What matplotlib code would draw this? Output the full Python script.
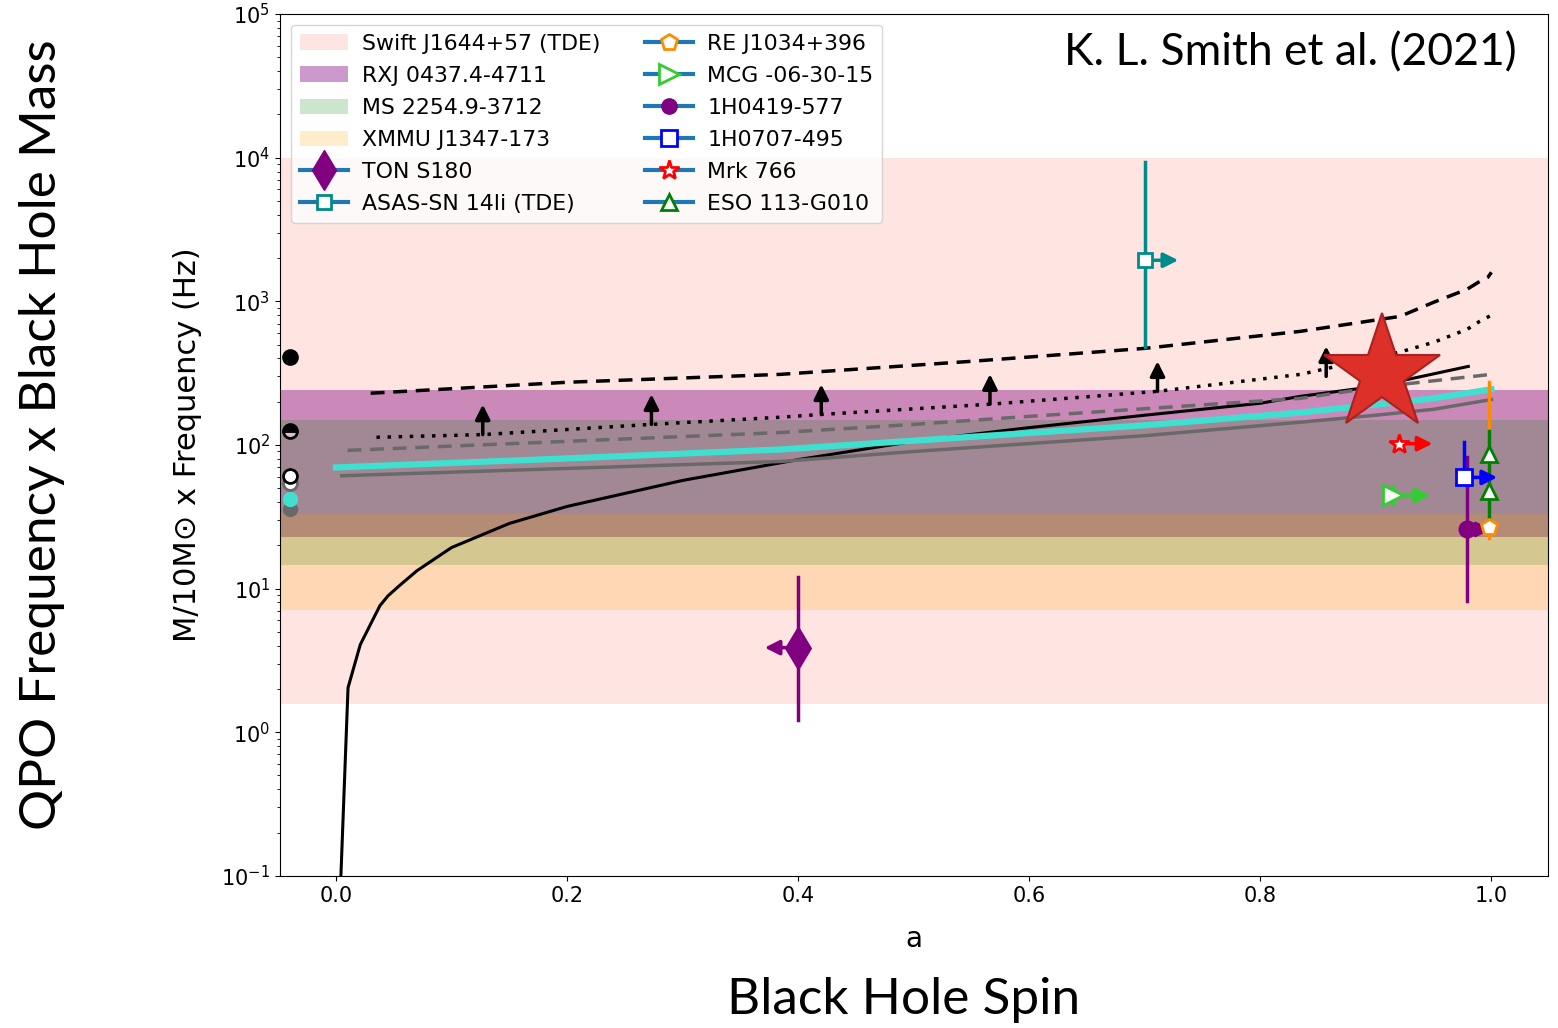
import matplotlib
matplotlib.use("Agg")
import matplotlib.pyplot as plt
from matplotlib.lines import Line2D
from matplotlib.patches import Patch

# --- model curves (a, M/10Msun x freq) ---
solid_a = [0.0035, 0.0104, 0.021, 0.032, 0.038, 0.045, 0.055, 0.07, 0.1, 0.15, 0.2, 0.3, 0.4, 0.5, 0.6, 0.7, 0.8, 0.835, 0.9, 0.98]
solid_f = [0.07, 2.04, 4.07, 6.1, 7.6, 8.9, 10.5, 13.3, 19.3, 28.4, 37.3, 56.6, 79, 106, 132, 161, 195, 218, 256, 352]

dashed_a = [0.03, 0.2, 0.385, 0.55, 0.7, 0.835, 0.921, 0.95, 0.979, 0.99, 0.997, 1.0]
dashed_f = [229, 273, 310, 382, 470, 618, 785, 984, 1213, 1377, 1470, 1592]

dotted_a = [0.035, 0.127, 0.273, 0.385, 0.42, 0.566, 0.711, 0.835, 0.92, 0.95, 0.979, 0.99, 1.0]
dotted_f = [113, 118, 139, 156, 163, 192, 236, 310, 441, 518, 638, 726, 800]

gdash_a = [0.01, 0.385, 0.5, 0.6, 0.835, 0.9, 1.0]
gdash_f = [91.6, 122, 139, 158, 211, 252, 310]

cyan_a = [0.0, 0.2, 0.385, 0.5, 0.7, 0.835, 0.9, 0.95, 1.0]
cyan_f = [69.7, 80.5, 93, 107, 137, 168, 191, 211, 244]

gray_a = [0.005, 0.385, 0.5, 0.7, 0.835, 0.9, 0.95, 1.0]
gray_f = [61, 76.7, 90, 116, 144, 161, 177, 207]

# lower-limit arrows sitting on the dotted curve
arrow_a = [0.127, 0.273, 0.42, 0.566, 0.711, 0.857]
arrow_f = [118, 139, 163, 192, 236, 300]

# circles at a < 0
left_f = [407, 124, 61.2, 54, 41.7, 36]

# QPO source bands (low, high)
band_names = ["Swift J1644+57 (TDE)", "RXJ 0437.4-4711", "MS 2254.9-3712", "XMMU J1347-173"]
band_lo = [1.56, 23, 14.7, 7.1]
band_hi = [10000, 240, 148, 33.3]

# sources: a, f, f_err_low, f_err_high, arrow end in a
ton_a, ton_f, ton_lo, ton_hi, ton_to = 0.4, 3.88, 1.22, 12.1, 0.371
asas_a, asas_f, asas_lo, asas_hi, asas_to = 0.7, 1930, 477, 9310, 0.729
mrk_a, mrk_f, mrk_to = 0.92, 102, 0.949
mcg_a, mcg_f, mcg_lo, mcg_hi, mcg_to = 0.915, 44.5, 39, 51, 0.947
h0707_a, h0707_f, h0707_lo, h0707_hi, h0707_to = 0.976, 59.4, 59.4, 104, 1.005
h0419_a, h0419_f, h0419_lo, h0419_hi, h0419_to = 0.979, 25.8, 8.2, 83, 1.0
re_a, re_f, re_lo, re_hi = 0.998, 27, 22.6, 273
eso_a, eso_f, eso_lo, eso_hi = 0.998, [86, 47.4], 27, 124
smith_a, smith_f = 0.905, 312

fig = plt.figure(figsize=(15.58, 10.28), dpi=100)
ax = fig.add_axes([0.1797, 0.148, 0.8139, 0.8384])

band_cols = ["salmon", "purple", "green", "orange"]
band_alpha = [0.2, 0.4, 0.2, 0.2]
for lo, hi, c, al in zip(band_lo, band_hi, band_cols, band_alpha):
    ax.axhspan(lo, hi, color=c, alpha=al, lw=0, zorder=0)

ax.plot(solid_a, solid_f, color="black", lw=2.2, zorder=3)
ax.plot(dashed_a, dashed_f, color="black", lw=2.5, ls=(0, (4, 2.5)), zorder=3)
ax.plot(dotted_a, dotted_f, color="black", lw=2.5, ls=(0, (1, 2.2)), zorder=3)
ax.plot(gdash_a, gdash_f, color="dimgray", lw=2.5, ls=(0, (4, 2.5)), zorder=3)
ax.plot(cyan_a, cyan_f, color="turquoise", lw=4.5, zorder=3)
ax.plot(gray_a, gray_f, color="dimgray", lw=2.5, zorder=3)

for xa, fa in zip(arrow_a, arrow_f):
    ax.annotate("", xy=(xa, fa * 1.62), xytext=(xa, fa),
                arrowprops=dict(arrowstyle="-|>", color="black", lw=2.5, mutation_scale=22,
                                shrinkA=0, shrinkB=0), zorder=4)

# circles at the left edge
x0 = -0.04
ax.plot(x0, left_f[5], "o", ms=10, color="dimgray", zorder=4)
ax.plot(x0, left_f[4], "o", ms=10, color="turquoise", zorder=4)
ax.plot(x0, left_f[3], "o", ms=10, mfc="white", mec="dimgray", mew=2, zorder=4)
ax.plot(x0, left_f[2], "o", ms=10, mfc="white", mec="black", mew=2, zorder=5)
ax.plot(x0, left_f[1], "o", ms=10, fillstyle="top", mfc="black", mfcalt=(1, 1, 1, 0.5),
        mec="black", mew=2, zorder=5)
ax.plot(x0, left_f[0], "o", ms=11, color="black", zorder=5)


def src(a, f, lo, hi, to, color, marker, ms, mfc, mew=2):
    if lo is not None:
        ax.plot([a, a], [lo, hi], color=color, lw=2.5, zorder=5)
    if to is not None:
        ax.annotate("", xy=(to, f), xytext=(a, f),
                    arrowprops=dict(arrowstyle="-|>", color=color, lw=2.5, mutation_scale=22,
                                    shrinkA=0, shrinkB=0), zorder=5)
    ax.plot(a, f, marker, ms=ms, mfc=mfc, mec=color, mew=mew, zorder=6)


src(ton_a, ton_f, ton_lo, ton_hi, ton_to, "purple", "d", 20, "purple")
src(asas_a, asas_f, asas_lo, asas_hi, asas_to, "darkcyan", "s", 10, "white")
src(mrk_a, mrk_f, None, None, mrk_to, "red", "*", 15, "white")
src(mcg_a, mcg_f, mcg_lo, mcg_hi, mcg_to, "limegreen", ">", 15, "white")
src(h0419_a, h0419_f, h0419_lo, h0419_hi, h0419_to, "purple", "o", 11, "purple")
ax.plot([re_a, re_a], [re_lo, re_hi], color="darkorange", lw=2.5, zorder=5)
ax.plot([eso_a, eso_a], [eso_lo, eso_hi], color="green", lw=2.5, zorder=5)
for ef in eso_f:
    ax.plot(eso_a, ef, "^", ms=11, mfc="white", mec="green", mew=2, zorder=6)
src(h0707_a, h0707_f, h0707_lo, h0707_hi, h0707_to, "blue", "s", 12, "white")
ax.plot(re_a, re_f, "p", ms=12, mfc="white", mec="darkorange", mew=2, zorder=7)

ax.plot(smith_a, smith_f, "*", ms=88, mfc="#dc3028", mec="#a82222", mew=1.5, zorder=8)

ax.set_yscale("log")
ax.set_xlim(-0.0485, 1.049)
ax.set_ylim(0.1, 1e5)
ax.set_xticks([0.0, 0.2, 0.4, 0.6, 0.8, 1.0])
ax.tick_params(labelsize=15)
ax.set_xlabel("a", fontsize=20, labelpad=14)
ax.set_ylabel("M/10M\u2299 x Frequency (Hz)", fontsize=22, labelpad=14)

handles = [Patch(facecolor=c, alpha=al) for c, al in zip(band_cols, band_alpha)]
blue = "tab:blue"
handles += [
    Line2D([], [], color=blue, lw=3, marker="d", ms=20, mfc="purple", mec="purple"),
    Line2D([], [], color=blue, lw=3, marker="s", ms=10, mfc="white", mec="darkcyan", mew=2),
    Line2D([], [], color=blue, lw=3, marker="p", ms=12, mfc="white", mec="darkorange", mew=2),
    Line2D([], [], color=blue, lw=3, marker=">", ms=15, mfc="white", mec="limegreen", mew=2),
    Line2D([], [], color=blue, lw=3, marker="o", ms=11, mfc="purple", mec="purple"),
    Line2D([], [], color=blue, lw=3, marker="s", ms=12, mfc="white", mec="blue", mew=2),
    Line2D([], [], color=blue, lw=3, marker="*", ms=15, mfc="white", mec="red", mew=2),
    Line2D([], [], color=blue, lw=3, marker="^", ms=11, mfc="white", mec="green", mew=2),
]
labels = band_names + ["TON S180", "ASAS-SN 14li (TDE)", "RE J1034+396", "MCG -06-30-15",
                       "1H0419-577", "1H0707-495", "Mrk 766", "ESO 113-G010"]
ax.legend(handles, labels, loc="upper left", ncol=2, fontsize=15.8, handlelength=2.2,
          handletextpad=0.65, labelspacing=0.55, columnspacing=2.0)

outer = dict(family="Lato", color="black")
ax.text(0.975, 0.955, "K. L. Smith et al. (2021)", transform=ax.transAxes,
        ha="right", va="center", fontsize=32, **outer)
fig.text(0.027, 0.577, "QPO Frequency x Black Hole Mass", rotation=90,
         ha="center", va="center", fontsize=37, **outer)
fig.text(0.58, 0.027, "Black Hole Spin", ha="center", va="center", fontsize=37, **outer)

fig.savefig("out.png", dpi=100)
